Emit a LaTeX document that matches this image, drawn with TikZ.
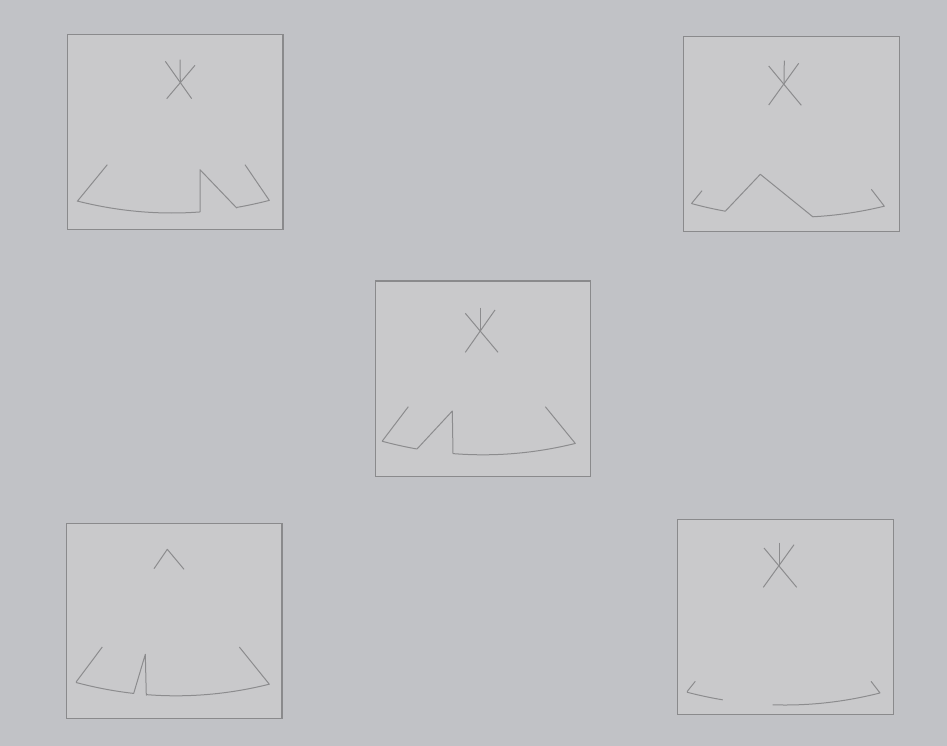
\documentclass[tikz,border=0pt]{standalone}
\begin{document}
\begin{tikzpicture}[x=1pt,y=-1pt,
  panel/.style={draw=panelline,fill=panelfill,line width=1.3pt},
  ln/.style={draw=strokecol,line width=1pt,line join=round}]
\definecolor{bgcol}{RGB}{193,194,198}
\definecolor{panelfill}{RGB}{201,201,203}
\definecolor{panelline}{RGB}{138,138,140}
\definecolor{strokecol}{RGB}{140,140,142}
\fill[bgcol] (0,0) rectangle (947,746);
\useasboundingbox (0,0) rectangle (947,746);
% panels
\draw[panel] (67.3,34.5) rectangle (283,229.3);
\draw[panel] (683.5,36.5) rectangle (899.3,231.5);
\draw[panel] (375.3,281) rectangle (590.7,476.3);
\draw[panel] (66.3,523.5) rectangle (282,718.7);
\draw[panel] (677.3,519.5) rectangle (893.3,714.7);
% panel 1
\draw[ln] (180,59.7) -- (180.3,82.6);
\draw[ln] (165.3,61.3) -- (191.7,98.7);
\draw[ln] (195,65.3) -- (166.7,98.7);
\draw[ln] (107.3,164.7) -- (77.3,201.3)
  -- plot[domain=77.3:200,samples=40] (\x,{213-(\x-172)^2/750})
  -- (200,169.7) -- (236.7,208)
  -- plot[domain=236.7:269.3,samples=20] (\x,{213-(\x-172)^2/750})
  -- (245,164.7);
% panel 2
\draw[ln] (784.3,60.7) -- (784,83.5);
\draw[ln] (768.7,66) -- (801.3,105.3);
\draw[ln] (798.7,63.3) -- (768.7,105);
\draw[ln] (702,190.7) -- (691.7,203.3)
  -- plot[domain=691.7:725.3,samples=20] (\x,{217.3-(\x-793)^2/750})
  -- (760.3,174.3) -- (812.7,216.7)
  -- plot[domain=812.7:884.3,samples=30] (\x,{217.3-(\x-793)^2/750})
  -- (871.3,189.3);
% panel 3
\draw[ln] (480.7,307.7) -- (480.7,331);
\draw[ln] (465.3,313.3) -- (498,352.3);
\draw[ln] (495,310) -- (465.3,352.3);
\draw[ln] (408.3,406.7) -- (382.3,441)
  -- plot[domain=382.3:417,samples=20] (\x,{454.8-(\x-483)^2/750})
  -- (452.3,411) -- (453,453.6)
  -- plot[domain=453:575.3,samples=40] (\x,{454.8-(\x-483)^2/750})
  -- (545.3,406.7);
% panel 4
\draw[ln] (154,568.7) -- (167.3,549.3) -- (184,569.3);
\draw[ln] (102.3,647) -- (76.3,681.7)
  -- plot[domain=76.3:133.7,samples=20] (\x,{695.8-(\x-176)^2/750})
  -- (145.3,654.3) -- (146.3,695.2)
  -- plot[domain=146.3:269.3,samples=40] (\x,{695.8-(\x-176)^2/750})
  -- (239.3,647);
% panel 5
\draw[ln] (779.3,542.7) -- (779.3,565.5);
\draw[ln] (764,548) -- (796.7,587.3);
\draw[ln] (794,544.7) -- (763.3,587.3);
\draw[ln] (695.3,681.3) -- (687.3,691.3)
  -- plot[domain=687.3:722.7,samples=20] (\x,{705-(\x-785)^2/750});
\draw[ln] plot[domain=772.7:880,samples=30] (\x,{705-(\x-785)^2/750})
  -- (871,681.3);
\end{tikzpicture}
\end{document}
